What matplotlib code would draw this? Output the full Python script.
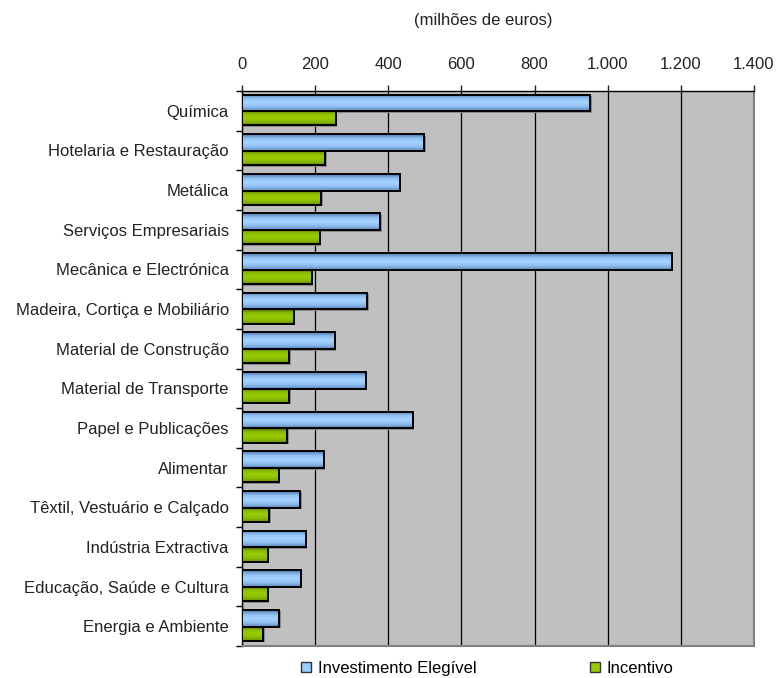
import numpy as np
import matplotlib.pyplot as plt
from matplotlib.patches import Patch, Rectangle
from matplotlib.colors import LinearSegmentedColormap
from matplotlib.transforms import ScaledTranslation

plt.rcParams['font.family'] = ['Liberation Sans', 'DejaVu Sans']

# Sectores e valores (milhões de euros)
sectores = [
    "Química", "Hotelaria e Restauração", "Metálica", "Serviços Empresariais",
    "Mecânica e Electrónica", "Madeira, Cortiça e Mobiliário",
    "Material de Construção", "Material de Transporte", "Papel e Publicações",
    "Alimentar", "Têxtil, Vestuário e Calçado", "Indústria Extractiva",
    "Educação, Saúde e Cultura", "Energia e Ambiente",
]
investimento = [952, 498, 431, 378, 1175, 342, 253, 338, 467, 223, 159, 174, 160, 102]
incentivo = [257, 227, 217, 213, 191, 142, 129, 129, 124, 101, 75, 71, 71, 58]

series_nomes = ["Investimento Elegível", "Incentivo"]
ticks_x = [0, 200, 400, 600, 800, 1000, 1200, 1400]
ticks_txt = ["0", "200", "400", "600", "800", "1.000", "1.200", "1.400"]

cor_azul = "#99CCFF"
cor_verde = "#99CC00"
grad_azul = LinearSegmentedColormap.from_list("az", ["#4f78a8", "#8ebff2", "#a8d4ff", "#8ebff2", "#5d86b6"])
grad_verde = LinearSegmentedColormap.from_list("vd", ["#4d6600", "#8cbc00", "#99cc00", "#8cbc00", "#6b8f00"])
cor_texto = "#222222"

fig = plt.figure(figsize=(7.77, 6.78), dpi=100)
ax = fig.add_axes([242 / 777, 1 - 646 / 678, (754 - 242) / 777, (646 - 91) / 678])
ax.set_facecolor("#C0C0C0")

y = np.arange(len(sectores))
grad = np.linspace(0, 1, 64).reshape(-1, 1)
desvio = ax.transData + ScaledTranslation(1.5 / 100, -1.5 / 100, fig.dpi_scale_trans)


def barra(x_fim, y_centro, altura, cmap):
    y0, y1 = y_centro - altura / 2, y_centro + altura / 2
    # sombra por baixo da barra
    ax.add_patch(Rectangle((0, y0), x_fim, altura, facecolor="#8a8a8a", edgecolor="none",
                           transform=desvio, zorder=2))
    ax.imshow(grad, cmap=cmap, aspect="auto", extent=(0, x_fim, y1, y0),
              interpolation="bilinear", zorder=3)
    ax.add_patch(Rectangle((0, y0), x_fim, altura, facecolor="none", edgecolor="black",
                           lw=1.4, zorder=4))


for i in range(len(sectores)):
    barra(investimento[i], y[i] - 0.2, 0.42, grad_azul)
    barra(incentivo[i], y[i] + 0.19, 0.36, grad_verde)

ax.set_xlim(0, 1400)
ax.set_ylim(len(sectores) - 0.5, -0.5)

# Eixo X no topo
ax.xaxis.tick_top()
ax.set_xticks(ticks_x)
ax.set_xticklabels(ticks_txt)
ax.tick_params(axis="x", which="both", length=4, width=1, pad=10, labelsize=12,
               colors=cor_texto, direction="out")
fig.text(483 / 777, 1 - 20 / 678, "(milhões de euros)", ha="center", va="center",
         fontsize=12, color=cor_texto)

ax.set_yticks(y)
ax.set_yticklabels(sectores)
ax.set_yticks(np.arange(len(sectores) + 1) - 0.5, minor=True)
ax.tick_params(axis="y", which="major", length=0, pad=9.5, labelsize=12, colors=cor_texto)
ax.tick_params(axis="y", which="minor", length=4, width=1, direction="out", color="black")

ax.grid(axis="x", color="black", lw=0.9, zorder=1)
ax.set_axisbelow(True)

for lado in ["top", "left"]:
    ax.spines[lado].set_color("black")
    ax.spines[lado].set_linewidth(1.0)
for lado in ["right", "bottom"]:
    ax.spines[lado].set_color("#808080")
    ax.spines[lado].set_linewidth(1.5)

handles = [Patch(facecolor=cor_azul, edgecolor="#333333", lw=1),
           Patch(facecolor=cor_verde, edgecolor="#333333", lw=1)]
fig.legend(handles, series_nomes, loc="lower center", bbox_to_anchor=(487 / 777, -0.019),
           ncol=2, frameon=False, fontsize=12, handlelength=0.6, handleheight=0.6,
           handletextpad=0.4, columnspacing=6.8)

fig.savefig("out.png", dpi=100)
